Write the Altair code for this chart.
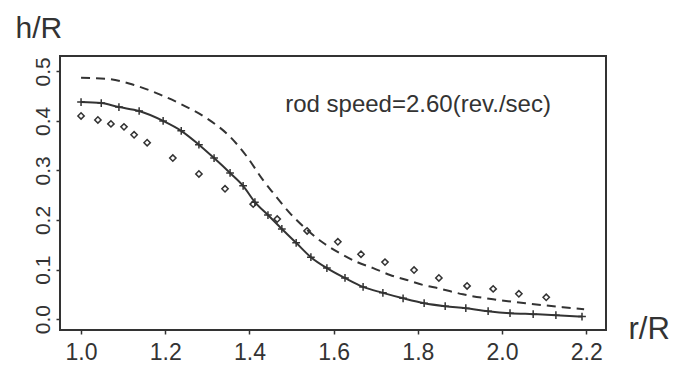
import altair as alt
import pandas as pd

# solid curve (with + markers)
solid_x = [1.000, 1.048, 1.090, 1.138, 1.195, 1.238, 1.280, 1.316, 1.354, 1.385,
           1.413, 1.444, 1.477, 1.511, 1.546, 1.584, 1.627, 1.670, 1.717, 1.765,
           1.815, 1.865, 1.914, 1.967, 2.019, 2.074, 2.128, 2.190]
solid_y = [0.438, 0.436, 0.428, 0.420, 0.400, 0.380, 0.352, 0.325, 0.295, 0.269,
           0.236, 0.210, 0.182, 0.154, 0.125, 0.103, 0.083, 0.065, 0.053, 0.042,
           0.032, 0.026, 0.022, 0.016, 0.012, 0.010, 0.008, 0.005]

# dashed curve
dash_x = [1.000, 1.062, 1.124, 1.188, 1.242, 1.299, 1.354, 1.394, 1.432, 1.456,
          1.496, 1.537, 1.575, 1.615, 1.656, 1.694, 1.734, 1.774, 1.812, 1.850,
          1.907, 1.988, 2.067, 2.145, 2.195]
dash_y = [0.487, 0.485, 0.473, 0.453, 0.432, 0.405, 0.368, 0.328, 0.281, 0.255,
          0.214, 0.180, 0.154, 0.133, 0.115, 0.103, 0.089, 0.079, 0.069, 0.062,
          0.050, 0.039, 0.031, 0.024, 0.020]

# measured points (open diamonds)
diam_x = [1.000, 1.040, 1.071, 1.102, 1.126, 1.157, 1.218, 1.280, 1.342, 1.409,
          1.466, 1.537, 1.610, 1.665, 1.722, 1.791, 1.850, 1.917, 1.979, 2.040, 2.105]
diam_y = [0.410, 0.402, 0.394, 0.388, 0.372, 0.356, 0.325, 0.293, 0.263, 0.232,
          0.202, 0.178, 0.156, 0.131, 0.115, 0.099, 0.083, 0.067, 0.061, 0.051, 0.044]

x_ticks = [1.0, 1.2, 1.4, 1.6, 1.8, 2.0, 2.2]
y_ticks = [0.0, 0.1, 0.2, 0.3, 0.4, 0.5]
label_text = ["rod speed=2.60(rev./sec)"]
label_x = [1.485]
label_y = [0.418]

FONT = "Liberation Sans"
INK = "#333333"

solid = pd.DataFrame({"x": solid_x, "y": solid_y})
dashed = pd.DataFrame({"x": dash_x, "y": dash_y})
diam = pd.DataFrame({"x": diam_x, "y": diam_y})
ann = pd.DataFrame({"x": label_x, "y": label_y, "t": label_text})

xs = alt.Scale(domain=[0.950, 2.247], nice=False, zero=False)
ys = alt.Scale(domain=[-0.022, 0.531], nice=False, zero=False)

xaxis = alt.Axis(values=x_ticks, format=".1f", grid=False, domain=False,
                 tickSize=4, tickWidth=1.5, tickColor=INK,
                 labelFont=FONT, labelFontSize=23, labelColor=INK,
                 labelBaseline="alphabetic", labelPadding=25, labelFlush=False,
                 title="r/R", titleFont=FONT, titleFontSize=31, titleFontWeight="normal",
                 titleColor=INK, titleX=568, titleY=8, titleAlign="left",
                 titleBaseline="alphabetic", titleAngle=0)
yaxis = alt.Axis(values=y_ticks, format=".1f", grid=False, domain=False,
                 tickSize=4, tickWidth=1.5, tickColor=INK,
                 labelFont=FONT, labelFontSize=21, labelColor=INK,
                 labelAngle=270, labelAlign="center", labelBaseline="alphabetic",
                 labelPadding=7, labelFlush=False,
                 title="h/R", titleFont=FONT, titleFontSize=30, titleFontWeight="normal",
                 titleColor=INK, titleX=-45, titleY=-19, titleAlign="left",
                 titleBaseline="alphabetic", titleAngle=0)

base_x = alt.X("x:Q", scale=xs, axis=xaxis)
base_y = alt.Y("y:Q", scale=ys, axis=yaxis)

solid_line = alt.Chart(solid).mark_line(color=INK, strokeWidth=2, interpolate="monotone").encode(x=base_x, y=base_y)
solid_pts = alt.Chart(solid).mark_point(shape="M-1,0L1,0M0,-1L0,1", filled=False, color=INK,
                                        strokeWidth=1.5, size=60, opacity=1).encode(x="x:Q", y="y:Q")
dash_line = alt.Chart(dashed).mark_line(color=INK, strokeWidth=2, strokeDash=[9, 6],
                                        interpolate="monotone").encode(x="x:Q", y="y:Q")
diam_pts = alt.Chart(diam).mark_point(shape="diamond", filled=False, color=INK,
                                      strokeWidth=1.5, size=40, opacity=1).encode(x="x:Q", y="y:Q")
text = alt.Chart(ann).mark_text(align="left", baseline="alphabetic", font=FONT,
                                fontSize=24, color=INK).encode(x="x:Q", y="y:Q", text="t:N")

chart = alt.layer(solid_line, dash_line, solid_pts, diam_pts, text).properties(
    width=546, height=274,
    background="white",
    autosize=alt.AutoSizeParams(type="none"),
    padding={"left": 52, "top": 48, "right": 75, "bottom": 36},
).configure_view(stroke=INK, strokeWidth=2)

chart.save("out.html", embed_options={"renderer": "svg", "actions": False})
